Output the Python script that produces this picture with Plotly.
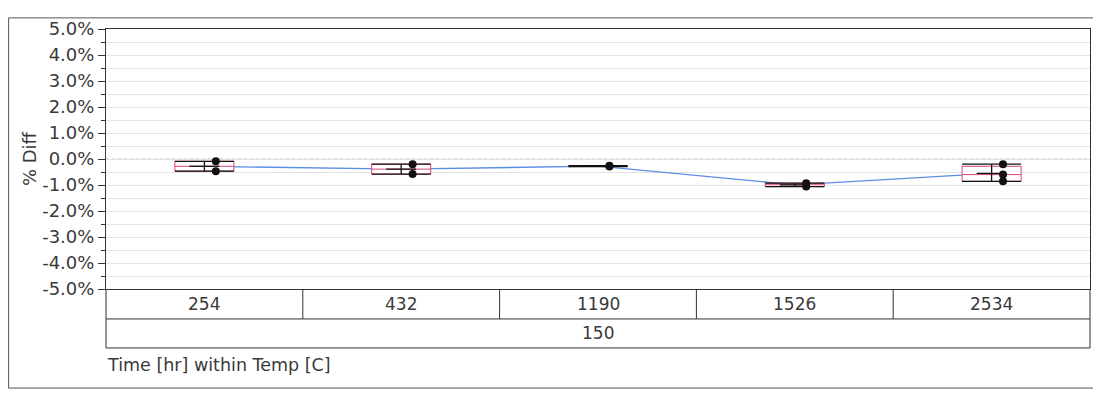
import plotly.graph_objects as go

# ---------------- data ----------------
time_labels = ["254", "432", "1190", "1526", "2534"]
temp_label = "150"

diff_254 = [-0.09, -0.47]
diff_432 = [-0.20, -0.58]
diff_1190 = [-0.26, -0.29]
diff_1526 = [-0.93, -1.06]
diff_2534 = [-0.20, -0.60, -0.86]

box_q1 = [-0.47, -0.58, -0.29, -1.06, -0.86]
box_q3 = [-0.09, -0.20, -0.26, -0.93, -0.28]
box_median = [-0.28, -0.39, -0.275, -0.99, -0.60]

y_tick_values = [-5, -4, -3, -2, -1, 0, 1, 2, 3, 4, 5]
y_tick_labels = ["-5.0%", "-4.0%", "-3.0%", "-2.0%", "-1.0%", "0.0%",
                 "1.0%", "2.0%", "3.0%", "4.0%", "5.0%"]
y_minor_values = [-4.5, -3.5, -2.5, -1.5, -0.5, 0.5, 1.5, 2.5, 3.5, 4.5]

groups = [diff_254, diff_432, diff_1190, diff_1526, diff_2534]
n = len(time_labels)
xpos = list(range(n))
means = [sum(g) / len(g) for g in groups]

PINK = "#d9467a"
BLACK = "#111111"
BLUE = "#5b8ee6"
TXT = "#3a3a3a"
FONT = "DejaVu Sans"

HALF = 0.15      # box half width (category units)
MHALF = 0.076    # mean line half width
POFF = 0.058     # point offset

fig = go.Figure()

# connecting line of cell means
fig.add_trace(go.Scatter(x=xpos, y=means, mode="lines",
                         line=dict(color=BLUE, width=1.3), hoverinfo="skip"))

# boxes (white filled, pink outline)
bx, by = [], []
for i in xpos:
    xl, xr = i - HALF, i + HALF
    bx += [xl, xr, xr, xl, xl, None]
    by += [box_q1[i], box_q1[i], box_q3[i], box_q3[i], box_q1[i], None]
fig.add_trace(go.Scatter(x=bx, y=by, mode="lines", fill="toself",
                         fillcolor="white", line=dict(color=PINK, width=1),
                         hoverinfo="skip"))

# median lines (pink)
mx, my = [], []
for i in xpos:
    mx += [i - HALF, i + HALF, None]
    my += [box_median[i], box_median[i], None]
fig.add_trace(go.Scatter(x=mx, y=my, mode="lines",
                         line=dict(color=PINK, width=1), hoverinfo="skip"))

# black caps at min / max, center vertical, mean line
cx, cy = [], []
for i, g in enumerate(groups):
    lo, hi = min(g), max(g)
    cx += [i - HALF, i + HALF, None, i - HALF, i + HALF, None, i, i, None,
           i - MHALF, i + MHALF, None]
    cy += [lo, lo, None, hi, hi, None, lo, hi, None, means[i], means[i], None]
fig.add_trace(go.Scatter(x=cx, y=cy, mode="lines",
                         line=dict(color=BLACK, width=1.3), hoverinfo="skip"))

# data points
px, py = [], []
for i, g in enumerate(groups):
    for v in g:
        px.append(i + POFF)
        py.append(v)
fig.add_trace(go.Scatter(x=px, y=py, mode="markers",
                         marker=dict(color=BLACK, size=8), hoverinfo="skip"))

# ---------------- layout ----------------
OFF = 8                      # page body margin of the browser
W, H = 1093, 385
ML, MR, MT, MB = 98, 10, 12, 104
PW, PH = W - ML - MR, H - MT - MB

def px2x(p):
    return (p - OFF - ML) / PW

def px2y(p):
    return (OFF + H - MB - p) / PH

shapes = []
# zero reference line
shapes.append(dict(type="line", xref="paper", yref="y", x0=0, x1=1, y0=0, y1=0,
                   line=dict(color="#b5b5b5", width=1, dash="3px,3px"), layer="below"))

row1 = px2y(320)
row2 = px2y(350)
line_style = dict(color="#333333", width=1)
shapes.append(dict(type="line", xref="paper", yref="paper", x0=0, x1=0, y0=0, y1=row2, line=line_style))
shapes.append(dict(type="line", xref="paper", yref="paper", x0=1, x1=1, y0=0, y1=row2, line=line_style))
for k in range(1, n):
    shapes.append(dict(type="line", xref="paper", yref="paper", x0=k / n, x1=k / n,
                       y0=0, y1=row1, line=line_style))
shapes.append(dict(type="line", xref="paper", yref="paper", x0=0, x1=1, y0=row1, y1=row1, line=line_style))
shapes.append(dict(type="line", xref="paper", yref="paper", x0=0, x1=1, y0=row2, y1=row2, line=line_style))

# outer frame
shapes.append(dict(type="rect", xref="paper", yref="paper",
                   x0=px2x(8.5), x1=px2x(1096.5), y0=px2y(391.5), y1=px2y(8.5),
                   line=dict(color="#555555", width=1)))

annotations = []
for i, lab in enumerate(time_labels):
    annotations.append(dict(x=(i + 0.5) / n, y=px2y(305), xref="paper", yref="paper",
                            text=lab, showarrow=False, xanchor="center", yanchor="middle",
                            font=dict(family=FONT, size=17, color=TXT)))
annotations.append(dict(x=0.5, y=px2y(335), xref="paper", yref="paper",
                        text=temp_label, showarrow=False, xanchor="center", yanchor="middle",
                        font=dict(family=FONT, size=17, color=TXT)))
annotations.append(dict(x=px2x(105), y=px2y(368), xref="paper", yref="paper",
                        text="Time [hr] within Temp [C]", showarrow=False,
                        xanchor="left", yanchor="middle",
                        font=dict(family=FONT, size=17.5, color=TXT)))
annotations.append(dict(x=px2x(29), y=0.5, xref="paper", yref="paper",
                        text="% Diff", showarrow=False, textangle=-90,
                        xanchor="center", yanchor="middle",
                        font=dict(family=FONT, size=18, color=TXT)))

fig.update_layout(
    width=W, height=H,
    margin=dict(l=ML, r=MR, t=MT, b=MB, pad=0),
    paper_bgcolor="white", plot_bgcolor="white",
    showlegend=False,
    shapes=shapes, annotations=annotations,
    xaxis=dict(range=[-0.5, n - 0.5], showticklabels=False, ticks="", showgrid=False,
               zeroline=False, showline=True, linecolor="#333333", linewidth=1, mirror=True,
               fixedrange=True),
    yaxis=dict(range=[-5, 5], tickmode="array", tickvals=y_tick_values, ticktext=y_tick_labels,
               ticks="outside", ticklen=7, tickcolor="#333333", tickwidth=1,
               showgrid=True, gridcolor="#e3e3e3", gridwidth=1,
               zeroline=False, showline=True, linecolor="#333333", linewidth=1, mirror=True,
               tickfont=dict(family=FONT, size=18, color=TXT),
               minor=dict(tickvals=y_minor_values, ticks="outside", ticklen=4,
                          tickcolor="#333333", showgrid=True, gridcolor="#e3e3e3"),
               fixedrange=True),
)

fig.write_html("out.html")
